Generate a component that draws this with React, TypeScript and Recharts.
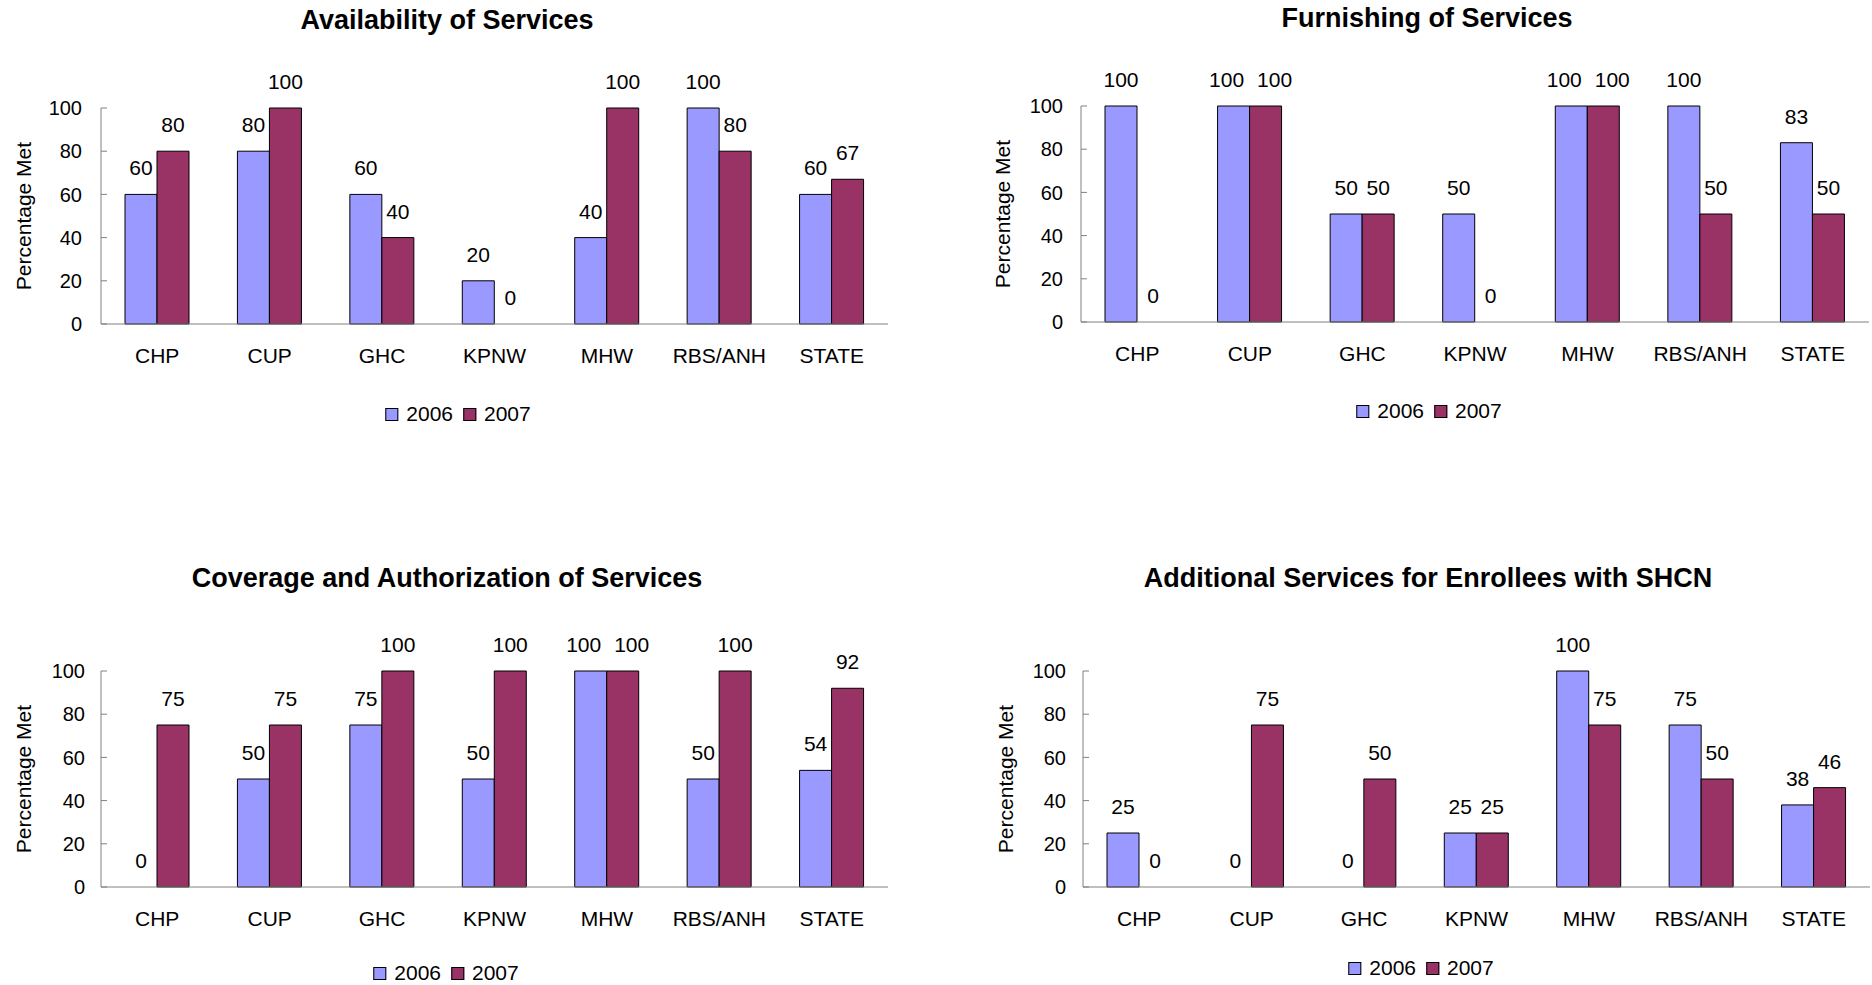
import { BarChart, Bar, XAxis, YAxis, LabelList, Cell } from "recharts";

// plans on the x axis, same for all four panels
const plans = ["CHP", "CUP", "GHC", "KPNW", "MHW", "RBS/ANH", "STATE"];
const yTicks = [0, 20, 40, 60, 80, 100];

const availability2006 = [60, 80, 60, 20, 40, 100, 60];
const availability2007 = [80, 100, 40, 0, 100, 80, 67];

const furnishing2006 = [100, 100, 50, 50, 100, 100, 83];
const furnishing2007 = [0, 100, 50, 0, 100, 50, 50];

const coverage2006 = [0, 50, 75, 50, 100, 50, 54];
const coverage2007 = [75, 75, 100, 100, 100, 100, 92];

const additional2006 = [25, 0, 0, 25, 100, 75, 38];
const additional2007 = [0, 75, 50, 25, 75, 50, 46];

const FONT = "'Liberation Sans', Arial, Helvetica, sans-serif";
const COLOR_2006 = "#9999FF";
const COLOR_2007 = "#993366";
const AXIS = "#808080";

type Box = { x: number; y: number; w: number; h: number };
type Plot = { l: number; r: number; t: number; b: number };

type PanelProps = {
  title: string;
  v2006: number[];
  v2007: number[];
  box: Box;
  plot: Plot;
  titleX: number;
  titleY: number;
  legendX: number;
  legendY: number;
  yLabelX: number;
  tickGap: number;
};

function Legend({ x, y }: { x: number; y: number }) {
  const item = (color: string, label: string) => (
    <div style={{ display: "flex", alignItems: "center", gap: 8 }}>
      <div style={{ width: 11, height: 11, background: color, border: "1px solid #000" }} />
      <span>{label}</span>
    </div>
  );
  return (
    <div
      style={{
        position: "absolute",
        left: x,
        top: y,
        transform: "translate(-50%, -50%)",
        display: "flex",
        gap: 10,
        fontSize: 21,
        whiteSpace: "nowrap",
      }}
    >
      {item(COLOR_2006, "2006")}
      {item(COLOR_2007, "2007")}
    </div>
  );
}

// value label above a bar; when both bars read 100 the labels are pushed apart like in excel
function barLabel(v2006: number[], v2007: number[], side: number) {
  return (props: any) => {
    const vb = props.viewBox || props;
    const i = props.index;
    const crowded = v2006[i] >= 100 && v2007[i] >= 100;
    const dx = crowded ? (side < 0 ? -7 : 9) : 0;
    return (
      <text
        x={vb.x + vb.width / 2 + dx}
        y={vb.y - 19}
        textAnchor="middle"
        fontSize={21}
        fontFamily={FONT}
        fill="#000"
      >
        {props.value}
      </text>
    );
  };
}

// zero bars keep a tiny height so their "0" label is drawn, but stay invisible
function cells(values: number[], color: string) {
  return values.map((v, i) => (
    <Cell key={i} fill={color} fillOpacity={v === 0 ? 0 : 1} stroke={v === 0 ? "none" : "#000"} />
  ));
}

function Panel(p: PanelProps) {
  const rows = plans.map((name, i) => ({ name, y2006: p.v2006[i], y2007: p.v2007[i] }));
  const xAxisH = 50;
  const { box, plot } = p;

  return (
    <>
      <div
        style={{
          position: "absolute",
          left: p.titleX,
          top: p.titleY,
          transform: "translate(-50%, -50%)",
          fontSize: 27,
          fontWeight: 700,
          whiteSpace: "nowrap",
        }}
      >
        {p.title}
      </div>

      <div
        style={{
          position: "absolute",
          left: p.yLabelX,
          top: (plot.t + plot.b) / 2,
          transform: "translate(-50%, -50%) rotate(-90deg)",
          fontSize: 21,
          whiteSpace: "nowrap",
        }}
      >
        Percentage Met
      </div>

      <div style={{ position: "absolute", left: box.x, top: box.y }}>
        <BarChart
          width={box.w}
          height={box.h}
          data={rows}
          barGap={0}
          barSize={32}
          margin={{
            top: plot.t - box.y,
            right: box.x + box.w - plot.r,
            bottom: box.y + box.h - plot.b - xAxisH,
            left: 0,
          }}
          style={{ fontFamily: FONT }}
        >
          <XAxis
            dataKey="name"
            height={xAxisH}
            axisLine={{ stroke: AXIS }}
            tickLine={false}
            tickSize={6}
            tickMargin={18}
            interval={0}
            tick={{ fill: "#000", fontSize: 21, fontFamily: FONT }}
          />
          <YAxis
            width={plot.l - box.x}
            domain={[0, 100]}
            ticks={yTicks}
            interval={0}
            axisLine={{ stroke: AXIS }}
            tickLine={{ stroke: AXIS }}
            tickSize={-6}
            tickMargin={p.tickGap}
            tick={{ fill: "#000", fontSize: 20, fontFamily: FONT }}
          />
          <Bar
            dataKey="y2006"
            fill={COLOR_2006}
            stroke="#000"
            strokeWidth={1}
            minPointSize={0.5}
            isAnimationActive={false}
          >
            {cells(p.v2006, COLOR_2006)}
            <LabelList dataKey="y2006" content={barLabel(p.v2006, p.v2007, -1)} />
          </Bar>
          <Bar
            dataKey="y2007"
            fill={COLOR_2007}
            stroke="#000"
            strokeWidth={1}
            minPointSize={0.5}
            isAnimationActive={false}
          >
            {cells(p.v2007, COLOR_2007)}
            <LabelList dataKey="y2007" content={barLabel(p.v2006, p.v2007, 1)} />
          </Bar>
        </BarChart>
      </div>

      <Legend x={p.legendX} y={p.legendY} />
    </>
  );
}

export default function App() {
  return (
    <div
      style={{
        position: "absolute",
        left: 0,
        top: 0,
        width: 1872,
        height: 985,
        background: "#fff",
        fontFamily: FONT,
        color: "#000",
        overflow: "hidden",
      }}
    >
      <Panel
        title="Availability of Services"
        v2006={availability2006}
        v2007={availability2007}
        box={{ x: 0, y: 0, w: 936, h: 430 }}
        plot={{ l: 101, r: 888, t: 108, b: 324 }}
        titleX={447}
        titleY={20}
        legendX={458}
        legendY={414}
        yLabelX={24}
        tickGap={25}
      />
      <Panel
        title="Furnishing of Services"
        v2006={furnishing2006}
        v2007={furnishing2007}
        box={{ x: 936, y: 0, w: 936, h: 430 }}
        plot={{ l: 1081, r: 1869, t: 106, b: 322 }}
        titleX={1427}
        titleY={18}
        legendX={1429}
        legendY={411}
        yLabelX={1003}
        tickGap={24}
      />
      <Panel
        title="Coverage and Authorization of Services"
        v2006={coverage2006}
        v2007={coverage2007}
        box={{ x: 0, y: 540, w: 936, h: 445 }}
        plot={{ l: 101, r: 888, t: 671, b: 887 }}
        titleX={447}
        titleY={578}
        legendX={446}
        legendY={973}
        yLabelX={24}
        tickGap={22}
      />
      <Panel
        title="Additional Services for Enrollees with SHCN"
        v2006={additional2006}
        v2007={additional2007}
        box={{ x: 936, y: 540, w: 936, h: 445 }}
        plot={{ l: 1083, r: 1870, t: 671, b: 887 }}
        titleX={1428}
        titleY={578}
        legendX={1421}
        legendY={968}
        yLabelX={1006}
        tickGap={23}
      />
    </div>
  );
}
